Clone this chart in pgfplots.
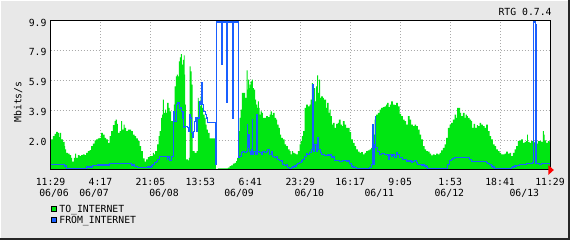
\documentclass[border=0pt]{standalone}
\usepackage{fontspec}
\usepackage{pgfplots}
\pgfplotsset{compat=1.18}
\usetikzlibrary{backgrounds}
\newfontfamily\mono{DejaVu Sans Mono}
\newcommand\mf{\mono\fontsize{9.8}{11}\selectfont}
\definecolor{bggray}{RGB}{232,232,232}
\definecolor{togreen}{RGB}{0,230,18}
\definecolor{fromblue}{RGB}{25,95,255}
\definecolor{gridgray}{RGB}{170,170,170}
\begin{document}
\begin{tikzpicture}[x=1pt,y=1pt]
\begin{axis}[
  at={(0,0)}, anchor=origin,
  scale only axis, width=499.5pt, height=149.5pt,
  xmin=0, xmax=499.5, ymin=0, ymax=9.9,
  clip=false,
  axis background/.style={fill=white},
  axis line style={draw=none},
  major tick length=0pt,
  grid=major,
  major grid style={gridgray, dash pattern=on 1pt off 2pt, line width=0.9pt},
  xtick={0,49.95,99.9,149.85,199.8,249.75,299.7,349.65,399.6,449.55,499.5},
  xticklabels={11:29,4:17,21:05,13:53,6:41,23:29,16:17,9:05,1:53,18:41,11:29},
  ytick={1.98,3.96,5.94,7.92,9.9},
  yticklabels={2.0,3.9,5.9,7.9,9.9},
  x tick label style={font=\mf, anchor=center, inner sep=0pt, yshift=-11.7pt},
  y tick label style={font=\mf, anchor=east, inner sep=0pt, xshift=-3.8pt, yshift=-2pt},
  extra x ticks={3.5,43.5,113.5,188.5,258.8,328.8,398.8,473.8},
  extra x tick labels={06/06,06/07,06/08,06/09,06/10,06/11,06/12,06/13},
  extra x tick style={grid=none, x tick label style={yshift=-11.3pt}},
  legend style={at={(axis description cs:0,-0.234)}, anchor=north west, draw=none, fill=none,
    inner sep=0pt, outer sep=0pt, row sep=0pt, font=\mf,
    nodes={inner sep=0pt, text height=7.5pt, text depth=3.5pt},
    /tikz/every odd column/.append style={column sep=2.6pt}},
  legend cell align=left,
]
\addplot[const plot, draw=none, fill=togreen,
  legend image code/.code={\draw[fill=togreen,draw=black,line width=0.7pt] (0pt,-1.2pt) rectangle (5.6pt,4.1pt);}]
coordinates {
(0,2.02)(2.3,2.24)(4,2.40)(5.7,2.53)(7.3,2.46)(8.3,2.18)(9,2.46)(10.7,2.02)(12.3,1.87)(14,1.58)(14.7,1.36)(15.7,1.14)(17.3,1.08)(19,0.99)(20.7,0.81)(21.7,0.55)(23.3,0.81)(24.7,1.08)(25.7,0.81)(27.3,0.99)(29,0.92)(30.7,0.99)(32.3,1.03)(34,0.99)(35.7,1.14)(37.3,1.25)(39,1.32)(40.7,1.58)(42.3,1.74)(44,1.96)(45.7,2.02)(47.3,2.09)(49,2.13)(50.7,2.46)(52.3,2.35)(54,2.13)(55.7,2.02)(57.3,1.80)(59,2.24)(60.7,2.57)(62.3,2.97)(64,3.23)(65,3.34)(66.3,3.06)(67.3,2.46)(69,2.57)(70.7,3.23)(71.7,2.68)(73,3.01)(74,2.79)(75.7,2.57)(77.3,2.68)(79,2.68)(80.7,2.57)(82.3,2.35)(84,2.24)(85.7,2.09)(87.3,1.91)(89,1.58)(90.7,1.25)(92.3,0.77)(94,0.55)(95.7,0.70)(97.3,0.86)
(99,0.92)(101.3,0.92)(102.3,1.14)(103.3,1.03)(104.6,1.25)(106.6,1.69)(108,2.24)(109,2.57)(110.6,3.45)(111.6,3.67)(112.3,4.66)(113.3,3.78)(114.6,4.00)(115.6,3.78)(116.6,4.44)(118,4.11)(119,3.89)(120.6,3.23)(122.3,3.23)(123.3,4.33)(124,5.54)(125.3,6.20)(126.3,6.31)(127.3,6.20)(128.3,7.19)(129.3,7.46)(130.3,7.68)(131.3,6.97)(132.3,7.30)(133.3,7.59)(134,6.31)(134.6,4.33)(135.3,0.70)(137.3,0.64)(138.3,0.81)(139,6.86)(140,6.53)(141,5.65)(142,1.25)(144,1.14)(146,1.25)(147.3,4.77)(148,4.55)(149,4.22)(150,4.88)(150.6,4.44)(151.6,4.11)(152.6,3.67)(154,3.45)(155,3.01)(156,2.68)(157.3,2.46)(159,2.09)(162.3,2.09)(165.3,0.04)(167.3,0.11)(177.3,0.15)(179,0.26)(180.6,0.31)(182.3,0.42)(184,0.48)(185.6,0.59)(186.6,0.81)(188,2.57)(189,3.45)(190,4.00)(191.3,5.10)(193,5.10)(194.6,4.77)(196,6.60)(197,5.32)(197.6,5.98)(198.6,5.43)
(199,5.65)(200,5.87)(201.3,5.98)(202.3,5.43)(203.3,5.32)(204.6,4.66)(205.6,4.33)(206.6,4.11)(207.3,4.55)(208.3,4.11)(209,3.67)(210,3.89)(211.3,3.78)(212.3,3.45)(214,3.45)(215.6,3.56)(217.3,3.50)(219,3.67)(220,3.89)(221.3,3.63)(222.3,3.78)(224,3.45)(225.6,3.34)(226.6,3.01)(228,2.79)(229.3,2.35)(230.6,2.13)(232.3,2.02)(234,1.69)(235.6,1.58)(237.3,1.36)(239,1.25)(240,1.03)(241.3,1.25)(242.6,1.14)(244,1.08)(245.6,1.03)(247.3,1.25)(249,1.69)(250,1.91)(251.3,2.24)(252.6,2.57)(254,4.11)(255.6,4.33)(257.3,4.22)(259,4.33)(260,4.66)(261.3,5.76)(262.3,5.10)(263.3,5.43)(264.6,4.55)(265.6,5.54)(266.6,6.27)(267.6,5.10)(268.6,5.98)(269.6,4.77)(270.6,4.88)(272.3,4.77)(273.3,4.66)(274.6,4.66)(275.6,4.11)(276.6,4.44)(278,3.78)(279,4.00)(280,3.56)(281.3,3.01)(282.3,3.12)(284,2.79)(285.6,3.06)(287.3,3.12)(288.3,3.34)(290,3.01)(291.3,2.90)(292.3,3.23)(294,3.01)(295.6,2.79)(297.3,2.79)(299,2.50)
(300.6,2.02)(302.3,1.80)(304,1.58)(305.6,1.36)(307.3,1.21)(309,1.14)(310.6,1.19)(312.3,1.03)(314,1.14)(315.6,1.25)(317.3,1.30)(319,1.36)(320.6,1.47)(321.6,1.69)(322.6,2.35)(324,3.34)(325.6,3.67)(327.3,3.78)(329,4.00)(330.6,4.11)(332.3,4.16)(334,4.22)(335.6,4.33)(336.6,4.44)(338,4.16)(339.3,4.33)(340.6,4.55)(342.3,4.33)(344,4.29)(345.6,4.44)(347.3,4.22)(349,3.72)(350.6,3.56)(352.3,3.34)(354,3.23)(355.6,3.01)(357.3,3.56)(359,3.34)(360.6,3.01)(362.3,2.90)(364,3.01)(365.6,2.90)(367.3,2.68)(369,2.35)(370.6,2.02)(372.3,1.58)(374,1.36)(375.6,1.25)(377.3,1.21)(379,1.08)(380.6,0.97)(382.3,1.03)(384,0.99)(385.6,1.08)(387.3,1.03)(389,1.14)(390.6,1.30)(392.3,1.47)(394,1.69)(395.6,2.13)(397.3,2.79)(399,3.01)
(400.6,3.12)(402.3,3.34)(404,3.67)(405.6,3.45)(406.6,4.11)(408.3,4.11)(409.6,3.78)(410.6,3.56)(412.3,3.78)(414,3.45)(415,3.67)(416.3,3.56)(417.3,3.45)(419,3.34)(420.6,3.23)(421.6,2.79)(423,3.06)(424.6,2.79)(426.3,2.97)(427.3,2.90)(429,3.12)(430.6,3.01)(432.3,2.90)(434,2.79)(435.6,3.01)(437.3,2.57)(439,2.24)(440.6,2.02)(442.3,1.69)(444,1.58)(445.6,1.36)(447.3,1.25)(449,1.14)(450.6,1.03)(452.3,1.03)(454,1.08)(455.6,1.21)(457.3,1.08)(459,1.14)(460.6,0.92)(462.3,1.14)(464,1.36)(465.6,1.58)(467.3,1.91)(469,1.96)(470.6,2.02)(472.3,1.80)(474,1.87)(475.6,1.91)(476.6,2.35)(477.3,1.87)(479,1.80)(480.6,1.91)(482.3,1.87)(484,1.80)(485.6,1.74)(487.3,1.91)(489,1.91)(490.6,1.87)(492.3,2.57)(493.3,2.35)(494,1.96)(495.6,1.80)(497.3,1.91)(499,1.87)(499.5,1.87)
} \closedcycle;
\addlegendentry{TO\_INTERNET}
\addplot[const plot, draw=fromblue, line width=1.2pt, no markers,
  legend image code/.code={\draw[fill=fromblue,draw=black,line width=0.7pt] (0pt,-1.2pt) rectangle (5.6pt,4.1pt);}]
coordinates {
(0,0.37)(12.3,0.37)(14,0.26)(15.7,0.11)(34,0.11)(35.7,0.20)(40.7,0.20)(42.3,0.29)(47.3,0.33)(57.3,0.33)(59,0.42)(79,0.42)(80.7,0.33)(84,0.22)(87.3,0.15)(97.3,0.20)(100.6,0.26)(102.3,0.37)(104,0.48)(105.6,0.55)(107.3,0.70)(109,0.92)(115.6,0.92)(116.6,0.70)(117.3,0.86)(119,0.64)(120.6,0.70)(121.3,0.92)(123.3,3.89)(124,3.23)(125.6,4.33)(127.3,4.44)(129,4.11)(130.6,3.89)(131.6,3.45)(132.3,3.89)(133,2.79)(134,2.90)(137.3,2.79)(138,2.57)(139,3.67)(140,3.45)(141,2.46)(142.3,2.13)(143.3,2.57)(144.3,3.23)(145.3,3.45)(146.3,2.57)(147.3,3.45)(149,4.55)(150,4.33)(151,5.76)(151.6,4.99)(152.3,4.33)(153.3,3.89)(154.6,3.67)(155.6,3.45)(156.6,3.17)(164.6,3.17)(165,0.37)(165.6,7.41)(166.3,9.8)(170.9,9.8)(171,7.0)(171.8,9.8)(176.2,9.8)(176.3,4.5)(177.1,9.8)(182.1,9.8)(182.2,3.4)(183,9.8)(187.3,9.8)(188,0.81)(189,0.92)(190.6,1.14)(192.3,1.25)(194,1.14)(195.6,1.25)(196.6,3.01)(197.3,1.47)(198.3,2.35)(199,1.25)(200,1.03)(200.6,1.36)(201.6,3.34)(202.3,1.03)(203.3,1.25)(204.6,1.03)(205.6,3.67)(206.6,1.03)(207.3,1.25)(209,1.14)(210.6,1.03)(212.3,1.25)(214,1.14)(215.6,1.25)(217.3,1.36)(219,1.03)(220.6,1.25)(222.3,0.92)(224,0.81)(225.6,0.86)(227.3,0.70)(229,0.64)(230.6,0.59)(232.3,0.37)(234,0.31)(235.6,0.37)(237.3,0.15)(239,0.11)(240.6,0.15)(242.3,0.20)(244,0.26)(245.6,0.37)(247.3,0.42)(249,0.48)(250.6,0.59)(252.3,0.70)(254,0.92)(255.6,1.08)(257.3,1.03)(259,1.14)(260.6,1.36)(261.6,5.65)(262.6,1.25)(264,1.69)(265.6,1.25)(267.3,2.13)(268.3,1.36)(269.6,1.14)(270.6,1.03)(274,0.97)(277.3,0.99)(280.6,0.86)(284,0.64)(287.3,0.64)(289,0.55)(292.3,0.64)(295.6,0.59)(299,0.42)(300.6,0.26)(302.3,0.20)(304,0.15)(305.6,0.11)(317.3,0.11)(319,0.15)(320.6,0.20)(321.3,0.37)(322.3,3.01)(323,0.37)(324,1.69)(324.6,3.56)(325.3,1.47)(326.6,1.25)(329,1.03)(330.6,1.08)(334,1.03)(337.3,0.99)(338,0.70)(339,1.03)(340.6,0.92)(342.3,0.99)(344,0.81)(345.6,1.14)(347.3,1.03)(349,0.81)(352.3,0.70)(355.6,0.59)(359,0.59)(360.6,0.48)(362.3,0.55)(364,0.64)(365.6,0.48)(367.3,0.37)(370.6,0.33)(374,0.26)(375.6,0.20)(377.3,0.11)(395.6,0.11)(397.3,0.37)(399,0.64)(400.6,0.70)(402.3,0.77)(404,0.81)(417.3,0.81)(419,0.70)(420.6,0.55)(434,0.55)(435.6,0.48)(437.3,0.42)(439,0.37)(440.6,0.26)(442.3,0.20)(444,0.11)(459,0.11)(460.6,0.15)(462.3,0.20)(464,0.26)(465.6,0.31)(469,0.37)(475.6,0.42)(480.6,0.44)(482.3,0.48)(483.3,9.8)(484.6,0.42)(485.6,9.6)(486.3,0.42)(489,0.37)(490.6,0.42)(494,0.42)(499,0.42)(499.5,0.42)
};
\addlegendentry{FROM\_INTERNET}
\draw[black, line width=1pt] (rel axis cs:0,0) rectangle (rel axis cs:1,1);
\coordinate (O) at (rel axis cs:0,0);
\end{axis}
\pgfresetboundingbox
\begin{scope}[on background layer, shift={(O)}]
\fill[bggray] (-50.5,-70) rectangle (519.5,170);
\fill[white] (-50.5,169) rectangle (517.5,170);
\fill[white] (-50.5,-68) rectangle (-49.5,170);
\fill[black!85] (517.5,-70) rectangle (519.5,170);
\fill[black!85] (-50.5,-70) rectangle (519.5,-68);
\end{scope}
\begin{scope}[shift={(O)}]
\fill[red] (497.8,5) -- (497.8,-5) -- (503.3,0) -- cycle;
\node[font=\mf, rotate=90, inner sep=0pt] at (-32.5,68) {Mbits/s};
\node[font=\mf, inner sep=0pt, anchor=east] at (501.3,157.8) {RTG 0.7.4};
\path[use as bounding box] (-50.5,-70) rectangle (519.5,170);
\end{scope}
\end{tikzpicture}
\end{document}
